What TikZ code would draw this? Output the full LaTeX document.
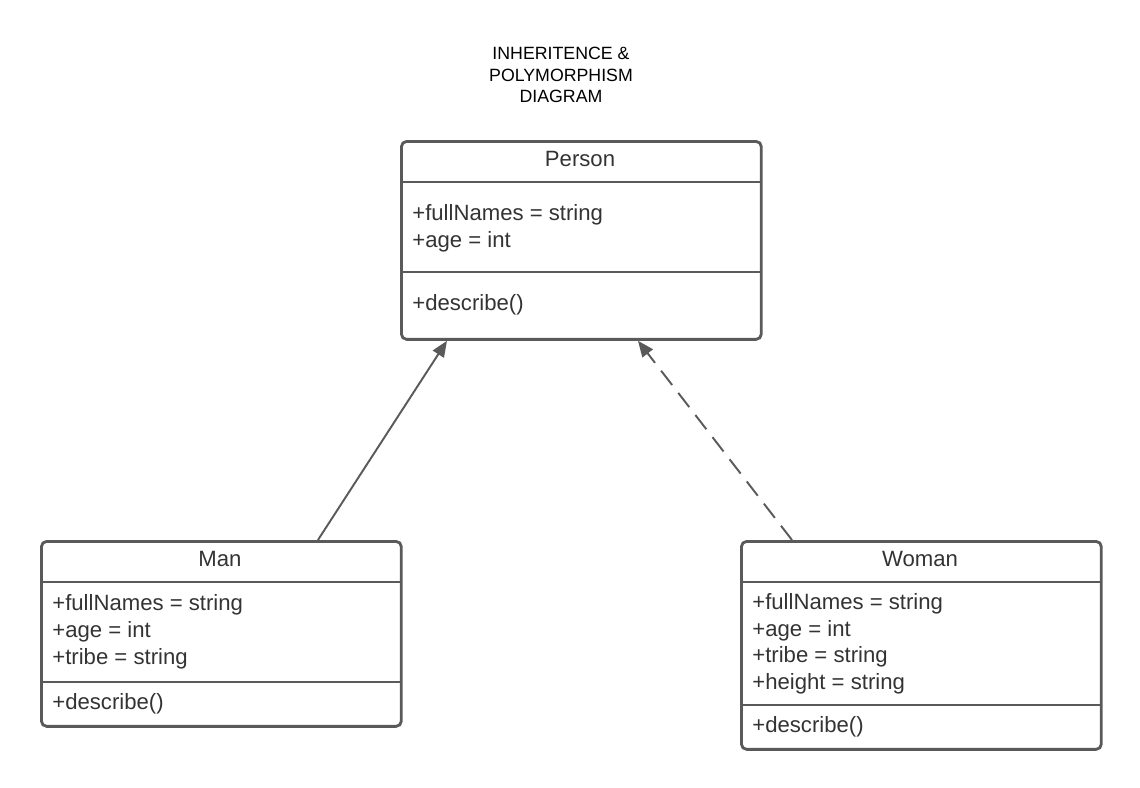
\documentclass[tikz,border=0pt]{standalone}
\usepackage{fontspec}
\setmainfont{Liberation Sans}
\usetikzlibrary{arrows.meta}

\definecolor{linegray}{RGB}{90,90,90}
\definecolor{textgray}{RGB}{51,51,51}

\begin{document}
\begin{tikzpicture}[x=0.02cm, y=-0.02cm]
        \tikzstyle{classbox} = [draw=linegray, line width=1.6pt, rounded corners=3pt, anchor=north west, inner sep=0pt, minimum width=7.2cm];
        \tikzstyle{sepline} = [draw=linegray, line width=1.6pt];
        \tikzstyle{member} = [anchor=base west, inner sep=0pt, textgray, font=\fontsize{12.6}{15.4}\selectfont];
        \tikzstyle{classname} = [member, anchor=base];
        \tikzstyle{title} = [align=center, font=\fontsize{10.1}{12.4}\selectfont, black];
        \tikzstyle{inherit} = [draw=linegray, line width=1.1pt, -{Triangle[length=0.32cm, width=0.26cm]}];
        \tikzstyle{realize} = [inherit, dash pattern=on 0.36cm off 0.2cm];
        \useasboundingbox (0,0) rectangle (1140,788);

        \node [title] (heading) at (561,75) {INHERITENCE \&\\POLYMORPHISM\\DIAGRAM};

        % Person
        \node [classbox, minimum height=3.96cm] (person) at (400,140) {};
        \draw [sepline] (person.north west) ++(0,42) -- ++(360,0);
        \draw [sepline] (person.north west) ++(0,132) -- ++(360,0);
        \node [classname] (personname) at (580,166) {Person};
        \node [member] (personattr1) at (412,220) {+fullNames = string};
        \node [member] (personattr2) at (412,247) {+age = int};
        \node [member] (personop) at (412,310) {+describe()};

        % Man
        \node [classbox, minimum height=3.70cm] (man) at (40,540) {};
        \draw [sepline] (man.north west) ++(0,42) -- ++(360,0);
        \draw [sepline] (man.north west) ++(0,142) -- ++(360,0);
        \node [classname] (manname) at (220,566) {Man};
        \node [member] (manattr1) at (52,610) {+fullNames = string};
        \node [member] (manattr2) at (52,637) {+age = int};
        \node [member] (manattr3) at (52,664) {+tribe = string};
        \node [member] (manop) at (52,709) {+describe()};

        % Woman
        \node [classbox, minimum height=4.16cm] (woman) at (740,540) {};
        \draw [sepline] (woman.north west) ++(0,42) -- ++(360,0);
        \draw [sepline] (woman.north west) ++(0,165) -- ++(360,0);
        \node [classname] (womanname) at (920,566) {Woman};
        \node [member] (womanattr1) at (752,609) {+fullNames = string};
        \node [member] (womanattr2) at (752,636) {+age = int};
        \node [member] (womanattr3) at (752,662) {+tribe = string};
        \node [member] (womanattr4) at (752,689) {+height = string};
        \node [member] (womanop) at (752,732) {+describe()};

        \draw [inherit] ([xshift=5.56cm]man.north west) -- ([xshift=0.94cm]person.south west);
        \draw [realize] ([xshift=1.04cm]woman.north west) -- ([xshift=4.76cm]person.south west);
\end{tikzpicture}
\end{document}
